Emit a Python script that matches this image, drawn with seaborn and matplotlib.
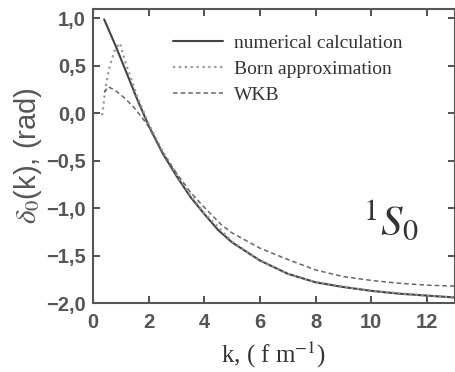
import numpy as np
import pandas as pd
import seaborn as sns
import matplotlib
matplotlib.use('Agg')
import matplotlib.pyplot as plt
from matplotlib.ticker import FuncFormatter

# phase shift delta_0(k) for the 1S0 channel
k_num = [0.4, 0.8, 1.2, 1.6, 2.0, 2.5, 3.0, 3.5, 4.0, 4.5, 5.0, 6.0, 7.0, 8.0, 9.0, 10, 11, 12, 13]
d_num = [0.99, 0.72, 0.43, 0.14, -0.13, -0.42, -0.66, -0.88, -1.06, -1.23, -1.36, -1.55, -1.69,
         -1.78, -1.83, -1.87, -1.90, -1.92, -1.94]

k_born = [0.33, 0.45, 0.6, 0.8, 0.97, 1.15, 1.6, 2.0, 2.5, 3.0, 3.5, 4.0, 5.0, 6.0, 7.0, 8.0, 10, 12, 13]
d_born = [-0.02, 0.27, 0.50, 0.68, 0.74, 0.55, 0.17, -0.11, -0.40, -0.64, -0.86, -1.05, -1.35,
          -1.55, -1.69, -1.78, -1.87, -1.92, -1.94]

k_wkb = [0.4, 0.55, 0.8, 1.1, 1.45, 1.8, 2.0, 2.5, 3.0, 3.5, 4.0, 4.6, 5.0, 6.0, 7.0, 8.0, 9.0, 10, 11, 12, 13]
d_wkb = [0.22, 0.28, 0.24, 0.17, 0.07, -0.06, -0.14, -0.41, -0.63, -0.83, -0.99, -1.17, -1.26,
         -1.42, -1.54, -1.65, -1.72, -1.76, -1.79, -1.81, -1.82]

sns.set_style('ticks')
plt.rcParams['mathtext.fontset'] = 'stix'

fig = plt.figure(figsize=(4.56, 3.72), dpi=100)
ax = fig.add_axes([0.204, 0.185, 0.793, 0.791])

sns.lineplot(x=k_num, y=d_num, ax=ax, color='#444444', linewidth=1.5,
             label='numerical calculation')
sns.lineplot(x=k_born, y=d_born, ax=ax, color='#999999', linewidth=1.6,
             linestyle=':', label='Born approximation')
sns.lineplot(x=k_wkb, y=d_wkb, ax=ax, color='#666666', linewidth=1.1,
             linestyle=(0, (3, 2)), label='WKB')

ax.set_xlim(0, 13)
ax.set_ylim(-2.0, 1.1)
ax.set_xticks([0, 2, 4, 6, 8, 10, 12])
ax.set_yticks([-2.0, -1.5, -1.0, -0.5, 0.0, 0.5, 1.0])
ax.yaxis.set_major_formatter(
    FuncFormatter(lambda v, p: f'{v:.1f}'.replace('.', ',').replace('-', '\u2212')))

ax.tick_params(direction='in', length=5, width=1.2, top=True, right=True,
               labelsize=14.5, colors='#333333')
ax.tick_params(axis='x', pad=7)
ax.tick_params(axis='y', pad=5)
for lab in ax.get_xticklabels() + ax.get_yticklabels():
    lab.set_family('Liberation Sans')
    lab.set_fontweight('bold')
    lab.set_color('#555555')
for sp in ax.spines.values():
    sp.set_linewidth(1.5)
    sp.set_color('#555555')

ax.set_xlabel(r'k, ( f m$^{-1}$)', family='Liberation Serif', fontsize=18, color='#333333', labelpad=6)
ax.set_ylabel(r'$\delta_0$(k), (rad)', family='Liberation Sans', fontsize=21, color='#555555', labelpad=2)

ax.text(9.7, -1.29, r'$^{1}S_{0}$', fontsize=31, color='#333333')

leg = ax.legend(loc='upper left', frameon=False, prop={'family': 'Liberation Serif', 'size': 14},
                handlelength=2.6, handletextpad=0.55, labelspacing=0.45,
                borderpad=0, borderaxespad=0, bbox_to_anchor=(0.22, 0.915))
for t in leg.get_texts():
    t.set_color('#333333')

fig.savefig('out.png', dpi=100)
